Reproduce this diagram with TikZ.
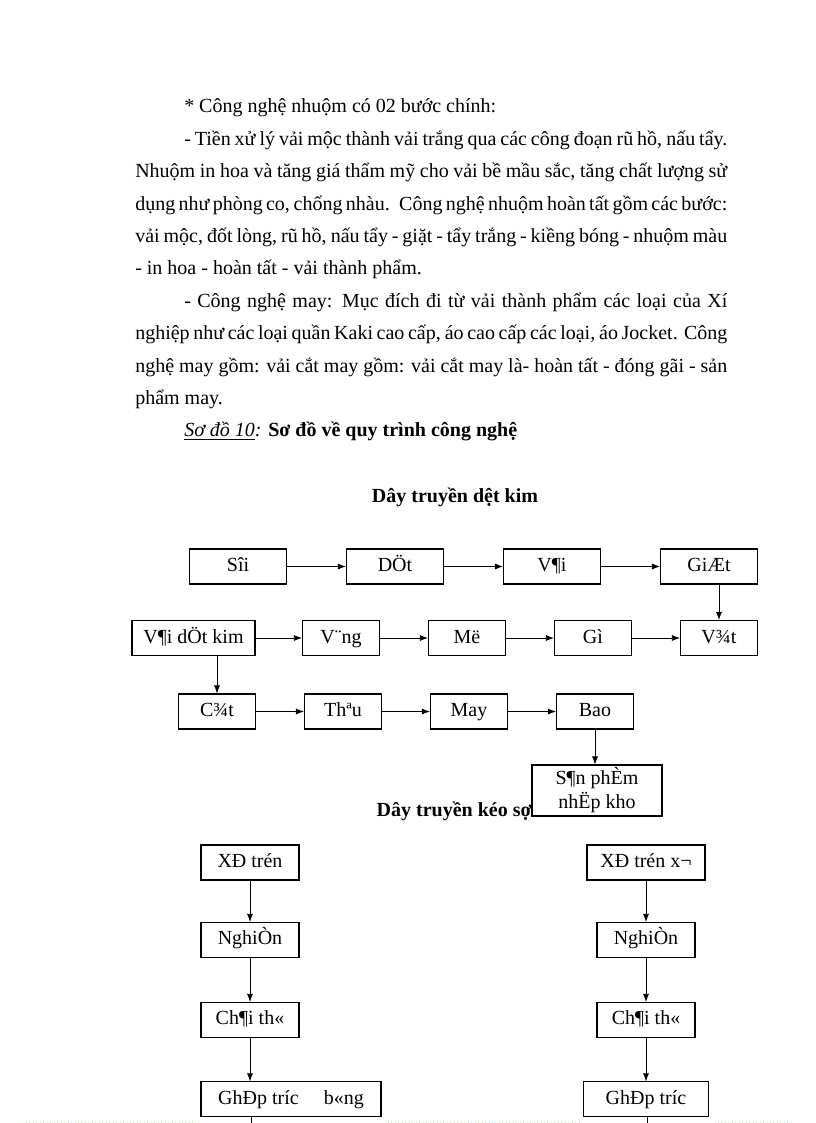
\documentclass[tikz,border=0pt]{standalone}
\usepackage{fontspec}
\setmainfont{Liberation Serif}
\usetikzlibrary{positioning,arrows,arrows.meta}
\hyphenpenalty=10000
\exhyphenpenalty=10000
\tikzstyle{stepbox} = [rectangle, draw=black, line width=0.8pt, minimum height=26.25pt, inner sep=2pt, text height=10.5pt, text depth=3pt, text centered, fill=white, font=\fontsize{15pt}{18pt}\selectfont]
\tikzstyle{small} = [stepbox, minimum width=57.75pt]
\tikzstyle{wide} = [stepbox, minimum width=73.5pt]
\tikzstyle{title} = [font=\fontsize{15pt}{18pt}\selectfont\bfseries]
\tikzstyle{arrow} = [line width=0.6pt,->,>={Latex[length=6pt,width=4.5pt]}]
\tikzstyle{arrow2} = [line width=0.6pt,-]

\begin{document}
\begin{tikzpicture}[x=0.75pt,y=-0.75pt,node distance=94.5pt]
\useasboundingbox (0,0) rectangle (816,1123);
% text above the diagrams
\node (body) [anchor=base west, inner sep=0pt, text width=444pt, align=justify, font=\fontsize{15pt}{24.3pt}\selectfont] at (135,113) {%
\hspace*{36.75pt}* Công nghệ nhuộm có 02 bước chính:\par
\hspace*{36.75pt}- Tiền xử lý vải mộc thành vải trắng qua các công đoạn rũ hồ, nấu tẩy.\linebreak
Nhuộm in hoa và tăng giá thẩm mỹ cho vải bề mầu sắc, tăng chất lượng sử\linebreak
dụng như phòng co, chống nhàu. \ Công nghệ nhuộm hoàn tất gồm các bước:\linebreak
vải mộc, đốt lòng, rũ hồ, nấu tẩy - giặt - tẩy trắng - kiềng bóng - nhuộm màu\linebreak
- in hoa - hoàn tất - vải thành phẩm.\par
\hspace*{36.75pt}- Công nghệ may: Mục đích đi từ vải thành phẩm các loại của Xí\linebreak
nghiệp như các loại quần Kaki cao cấp, áo cao cấp các loại, áo Jocket. Công\linebreak
nghệ may gồm: vải cắt may gồm: vải cắt may là- hoàn tất - đóng gãi - sản\linebreak
phẩm may.\par
\hspace*{36.75pt}\underline{\textit{Sơ đồ 10}}\textit{:} \textbf{Sơ đồ về quy trình công nghệ}};

% day truyen det kim
\node (title1) [title] at (455,497) {Dây truyền dệt kim};
\node (soi) [stepbox, minimum width=72.75pt] at (238,566.5) {Sîi};
\node (det) [stepbox, minimum width=72.75pt, right of=soi, xshift=23.25pt] {DÖt};
\node (vai) [stepbox, minimum width=72.75pt, right of=det, xshift=23.25pt] {V¶i};
\node (giat) [stepbox, minimum width=72.75pt, right of=vai, xshift=23.25pt] {GiÆt};
\node (vaidet) [stepbox, minimum width=92.25pt] at (193.5,638) {V¶i dÖt kim};
\node (vang) [small, right of=vaidet, xshift=16.1pt] {V¨ng};
\node (mo) [small, right of=vang] {Më};
\node (go) [small, right of=mo] {Gì};
\node (vat) [small, right of=go] {V¾t};
\node (cat) [small] at (217,711.5) {C¾t};
\node (theu) [small, right of=cat] {Thªu};
\node (may) [small, right of=theu] {May};
\node (bao) [small, right of=may] {Bao};
\node (title2) [title] at (457,811) {Dây truyền kéo sợi};
\node (sanpham) [stepbox, text height=, text depth=, minimum width=97.5pt, minimum height=38.25pt, align=center, below of=bao, xshift=1.5pt, yshift=35.25pt] {S¶n phÈm\\nhËp kho};
\draw [arrow] (soi) -- (det);
\draw [arrow] (det) -- (vai);
\draw [arrow] (vai) -- (giat);
\draw [arrow] (giat.south -| vat.north) -- (vat.north);
\draw [arrow] (vaidet) -- (vang);
\draw [arrow] (vang) -- (mo);
\draw [arrow] (mo) -- (go);
\draw [arrow] (go) -- (vat);
\draw [arrow] (vaidet.south -| cat.north) -- (cat.north);
\draw [arrow] (cat) -- (theu);
\draw [arrow] (theu) -- (may);
\draw [arrow] (may) -- (bao);
\draw [arrow] (bao.south) -- (bao.south |- sanpham.north);

% day truyen keo soi
\node (xe1) [wide] at (250,862.5) {XÐ trén};
\node (nghien1) [wide, below of=xe1, yshift=36.4pt] {NghiÒn};
\node (chai1) [wide, below of=nghien1, yshift=34.5pt] {Ch¶i th«};
\node (ghep1) [stepbox, minimum width=135pt, below of=chai1, xshift=30.75pt, yshift=34.9pt] {GhÐp tríc \quad b«ng};
\node (xe2) [stepbox, minimum width=88.5pt] at (646,862.5) {XÐ trén x¬};
\node (nghien2) [wide, below of=xe2, yshift=36.4pt] {NghiÒn};
\node (chai2) [wide, below of=nghien2, yshift=34.5pt] {Ch¶i th«};
\node (ghep2) [stepbox, minimum width=93.75pt, below of=chai2, yshift=34.9pt] {GhÐp tríc};
\coordinate (end1) at (251,1123);
\coordinate (end2) at (647,1123);
\draw [arrow] (xe1) -- (nghien1);
\draw [arrow] (nghien1) -- (chai1);
\draw [arrow] (chai1.south) -- (chai1.south |- ghep1.north);
\draw [arrow] (xe2) -- (nghien2);
\draw [arrow] (nghien2) -- (chai2);
\draw [arrow] (chai2) -- (ghep2);
\draw [arrow2] (ghep1.south -| end1) -- (end1);
\draw [arrow2] (ghep2.south -| end2) -- (end2);
% page break line
\draw [dotted, line width=0.6pt, green!50!gray!35] (26,1122) -- (195,1122) (388,1122) -- (579,1122) (718,1122) -- (791,1122);
\end{tikzpicture}
\end{document}
